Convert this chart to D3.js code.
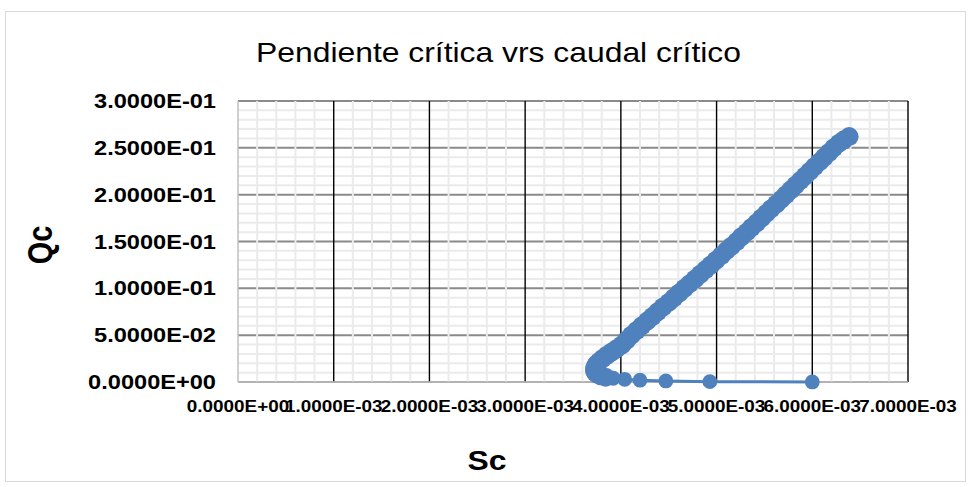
<!DOCTYPE html>
<html><head><meta charset="utf-8">
<script src="https://cdn.jsdelivr.net/npm/d3@7"></script>
<style>html,body{margin:0;padding:0;background:#fff;}svg{display:block;}</style>
</head><body>
<script>
// Data
const scValues = [6.00e-3, 4.93e-3, 4.47e-3, 4.20e-3, 4.04e-3, 3.92e-3, 3.84e-3, 3.79e-3, 3.755e-3, 3.735e-3,
  3.725e-3, 3.725e-3, 3.735e-3, 3.75e-3, 3.775e-3, 3.81e-3, 3.855e-3, 3.905e-3, 3.955e-3, 4.01e-3,
  4.06e-3, 4.11e-3, 4.165e-3, 4.22e-3, 4.275e-3, 4.33e-3, 4.385e-3, 4.44e-3, 4.50e-3, 4.555e-3,
  4.61e-3, 4.665e-3, 4.72e-3, 4.775e-3, 4.83e-3, 4.885e-3, 4.94e-3, 4.995e-3, 5.05e-3, 5.10e-3,
  5.155e-3, 5.21e-3, 5.26e-3, 5.315e-3, 5.365e-3, 5.42e-3, 5.47e-3, 5.52e-3, 5.57e-3, 5.625e-3,
  5.675e-3, 5.725e-3, 5.775e-3, 5.825e-3, 5.875e-3, 5.925e-3, 5.975e-3, 6.025e-3, 6.075e-3, 6.125e-3,
  6.175e-3, 6.225e-3, 6.28e-3, 6.33e-3, 6.385e-3];
const qcValues = [0.0001, 0.0004, 0.0011, 0.0019, 0.0029, 0.0040, 0.0052, 0.0066, 0.0082, 0.0100,
  0.0120, 0.0145, 0.0170, 0.0195, 0.0220, 0.0250, 0.0285, 0.0320, 0.0355, 0.0395,
  0.0445, 0.050, 0.055, 0.060, 0.065, 0.070, 0.075, 0.080, 0.085, 0.090,
  0.095, 0.100, 0.105, 0.110, 0.115, 0.120, 0.125, 0.130, 0.135, 0.140,
  0.145, 0.150, 0.155, 0.160, 0.165, 0.170, 0.175, 0.180, 0.185, 0.190,
  0.195, 0.200, 0.205, 0.210, 0.215, 0.220, 0.225, 0.230, 0.235, 0.240,
  0.245, 0.250, 0.255, 0.2585, 0.262];
const xTicks = [0, 0.001, 0.002, 0.003, 0.004, 0.005, 0.006, 0.007];
const xTickLabels = ["0.0000E+00", "1.0000E-03", "2.0000E-03", "3.0000E-03", "4.0000E-03", "5.0000E-03", "6.0000E-03", "7.0000E-03"];
const yTicks = [0, 0.05, 0.10, 0.15, 0.20, 0.25, 0.30];
const yTickLabels = ["0.0000E+00", "5.0000E-02", "1.0000E-01", "1.5000E-01", "2.0000E-01", "2.5000E-01", "3.0000E-01"];
const chartTitle = "Pendiente crítica vrs caudal crítico";
const xTitle = "Sc";
const yTitle = "Qc";

const W = 971, H = 487;
const FONT = "'Liberation Sans', Arial, sans-serif";
const SX = 1.18; // horizontal stretch of the reference text
const svg = d3.select("body").append("svg").attr("width", W).attr("height", H);

svg.append("rect").attr("x", 5.5).attr("y", 11.5).attr("width", 960).attr("height", 470)
  .attr("fill", "#fff").attr("stroke", "#d9d9d9").attr("stroke-width", 1);

const x = d3.scaleLinear().domain([0, 0.007]).range([238, 908]);
const y = d3.scaleLinear().domain([0, 0.3]).range([382, 101]);

const grid = svg.append("g");
const yMinor = d3.range(0, 31).map(i => i * 0.01).filter(v => Math.round(v * 100) % 5 !== 0);
grid.selectAll(".hmin").data(yMinor).join("line")
  .attr("x1", x(0)).attr("x2", x(0.007)).attr("y1", d => y(d)).attr("y2", d => y(d))
  .attr("stroke", "#ebebeb").attr("stroke-width", 2);
grid.selectAll(".hmaj").data(yTicks).join("line")
  .attr("x1", x(0)).attr("x2", x(0.007)).attr("y1", d => y(d)).attr("y2", d => y(d))
  .attr("stroke", "#8a8a8a").attr("stroke-width", 2);
const xMinor = d3.range(0, 36).map(i => i * 0.0002).filter(v => Math.round(v * 10000) % 10 !== 0);
grid.selectAll(".vmin").data(xMinor).join("line")
  .attr("x1", d => x(d)).attr("x2", d => x(d)).attr("y1", y(0.3)).attr("y2", y(0))
  .attr("stroke", "#ebebeb").attr("stroke-width", 2);
grid.selectAll(".vmaj").data(xTicks.slice(1)).join("line")
  .attr("x1", d => x(d)).attr("x2", d => x(d)).attr("y1", y(0.3)).attr("y2", y(0))
  .attr("stroke", "#000").attr("stroke-width", 1.4);
svg.append("line").attr("x1", x(0)).attr("x2", x(0)).attr("y1", y(0.3)).attr("y2", y(0))
  .attr("stroke", "#bfbfbf").attr("stroke-width", 1.5);
svg.append("line").attr("x1", x(0)).attr("x2", x(0.007)).attr("y1", y(0)).attr("y2", y(0))
  .attr("stroke", "#bfbfbf").attr("stroke-width", 1.5);

function stretchedText(tx, ty, txt, size, weight, anchor, rot) {
  return svg.append("text")
    .attr("transform", rot ? `translate(${tx},${ty}) scale(${SX},1) rotate(-90)` : `translate(${tx},${ty}) scale(${SX},1)`)
    .attr("font-family", FONT).attr("font-size", size).attr("font-weight", weight)
    .attr("text-anchor", anchor).attr("fill", "#000").text(txt);
}

xTicks.forEach((v, i) => stretchedText(x(v), 412, xTickLabels[i], 16, "bold", "middle"));
yTicks.forEach((v, i) => stretchedText(216, y(v) + 7, yTickLabels[i], 20, "bold", "end"));
stretchedText(498.5, 62, chartTitle, 27, "normal", "middle");
stretchedText(487, 470, xTitle, 27, "bold", "middle");
stretchedText(52, 245, yTitle, 29, "bold", "middle", true);

const pts = scValues.map((s, i) => [s, qcValues[i]]);
const color = "#4f81bd";
svg.append("path").datum(pts)
  .attr("d", d3.line().x(d => x(d[0])).y(d => y(d[1])))
  .attr("fill", "none").attr("stroke", color).attr("stroke-width", 3);
svg.append("g").selectAll("circle").data(pts).join("circle")
  .attr("cx", d => x(d[0])).attr("cy", d => y(d[1]))
  .attr("r", (d, i) => i < 6 ? 7.4 : 9.5).attr("fill", color);
</script>
</body></html>
